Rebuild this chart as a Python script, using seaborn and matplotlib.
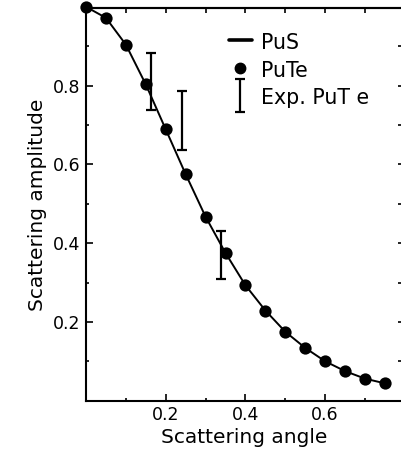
import numpy as np
import pandas as pd
import matplotlib
matplotlib.use("Agg")
import matplotlib.pyplot as plt
from matplotlib.lines import Line2D
from matplotlib.legend_handler import HandlerErrorbar
import seaborn as sns

# ---- data ----
angle = [0.0, 0.05, 0.10, 0.15, 0.20, 0.25, 0.30, 0.35, 0.40, 0.45,
         0.50, 0.55, 0.60, 0.65, 0.70, 0.75]
pus_amp = [1.0, 0.972, 0.904, 0.803, 0.689, 0.575, 0.467, 0.375, 0.293,
           0.229, 0.175, 0.134, 0.100, 0.075, 0.056, 0.044]
pute_amp = [1.0, 0.972, 0.904, 0.803, 0.689, 0.575, 0.467, 0.375, 0.293,
            0.229, 0.175, 0.134, 0.100, 0.075, 0.056, 0.044]
exp_angle = [0.1625, 0.242, 0.3375]
exp_amp = [0.8105, 0.711, 0.3705]
exp_err = [0.0735, 0.075, 0.0615]
xticks = [0.2, 0.4, 0.6]
yticks = [0.2, 0.4, 0.6, 0.8]

sns.set_theme(style="ticks")
plt.rcParams["font.family"] = ["DejaVu Sans"]
plt.rcParams["text.color"] = "black"
plt.rcParams["axes.labelcolor"] = "black"
plt.rcParams["xtick.color"] = "black"
plt.rcParams["ytick.color"] = "black"

fig = plt.figure(figsize=(4.01, 4.55), dpi=100)
ax = fig.add_axes([86 / 401, 1 - 400.7 / 455, (402.5 - 86) / 401, (400.7 - 8) / 455])

df_line = pd.DataFrame({"angle": angle, "amp": pus_amp})
df_pts = pd.DataFrame({"angle": angle, "amp": pute_amp})

sns.lineplot(data=df_line, x="angle", y="amp", color="black", linewidth=1.4,
             ax=ax, zorder=2, clip_on=False)
sns.scatterplot(data=df_pts, x="angle", y="amp", color="black", s=78,
                edgecolor="black", linewidth=0, ax=ax, zorder=3, clip_on=False)
eb = ax.errorbar(exp_angle, exp_amp, yerr=exp_err, fmt="none", ecolor="black",
                 elinewidth=1.6, capsize=3.5, capthick=1.6, zorder=4)

ax.set_xlim(0, 0.794)
ax.set_ylim(0, 0.997)
ax.set_xticks(xticks)
ax.set_yticks(yticks)
ax.set_xticklabels([f"{v:.1f}" for v in xticks])
ax.set_yticklabels([f"{v:.1f}" for v in yticks])
ax.set_xticks([0.1, 0.3, 0.5, 0.7], minor=True)
ax.set_yticks([0.1, 0.3, 0.5, 0.7, 0.9], minor=True)
ax.tick_params(axis="both", which="major", direction="in", length=5, width=1.2,
               labelsize=12.5, pad=4, colors="black", top=False, right=False)
ax.tick_params(axis="both", which="minor", direction="in", length=2.5, width=1.2,
               top=False, right=False)

for s in ax.spines.values():
    s.set_linewidth(1.5)
    s.set_color("black")
    s.set_visible(True)
ax.spines["right"].set_visible(False)

top = ax.secondary_xaxis("top")
top.set_xticks([0.1, 0.2, 0.3, 0.4, 0.5, 0.6, 0.7])
top.set_xticklabels([])
top.tick_params(direction="in", length=3.5, width=1.2)
top.spines["top"].set_linewidth(1.5)
right = ax.secondary_yaxis("right")
right.set_yticks([0.1, 0.2, 0.3, 0.4, 0.5, 0.6, 0.7, 0.8, 0.9])
right.set_yticklabels([])
right.tick_params(direction="in", length=3.5, width=1.2)
right.spines["right"].set_visible(False)

ax.set_xlabel("Scattering angle", fontsize=14.5, labelpad=3, color="black")
ax.set_ylabel("Scattering amplitude", fontsize=14.5, labelpad=4, color="black")

handles = [Line2D([], [], color="black", linewidth=2.6),
           Line2D([], [], color="black", marker="o", linestyle="none", markersize=7.5),
           eb]
labels = ["PuS", "PuTe", "Exp. PuT e"]
leg = ax.legend(handles, labels, loc="upper left", bbox_to_anchor=(0.452, 0.94),
                frameon=False, fontsize=14.8, handlelength=1.1, handletextpad=0.45,
                labelspacing=0.3, borderpad=0, borderaxespad=0, handleheight=1.2,
                handler_map={type(eb): HandlerErrorbar(yerr_size=0.82)})
for t in leg.get_texts():
    t.set_color("black")

fig.savefig("out.png", dpi=100)
